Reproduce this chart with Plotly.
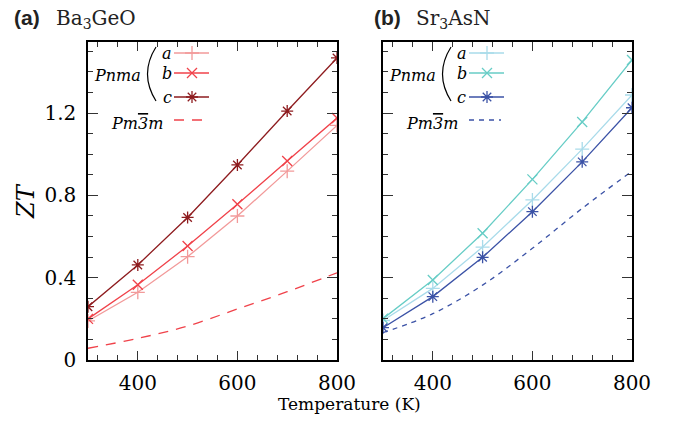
import plotly.graph_objects as go

# ---------------- data ----------------
temps = [300, 400, 500, 600, 700, 800]

ba_a = [0.19, 0.329, 0.502, 0.700, 0.918, 1.14]
ba_b = [0.20, 0.366, 0.554, 0.757, 0.967, 1.176]
ba_c = [0.259, 0.462, 0.693, 0.948, 1.21, 1.468]
ba_cubic = [0.057, 0.105, 0.165, 0.248, 0.332, 0.424]

sr_a = [0.192, 0.348, 0.549, 0.778, 1.025, 1.288]
sr_b = [0.201, 0.389, 0.616, 0.878, 1.157, 1.458]
sr_c = [0.157, 0.308, 0.499, 0.721, 0.963, 1.226]
sr_cubic = [0.133, 0.225, 0.364, 0.543, 0.737, 0.918]

x_ticks = [400, 600, 800]
y_ticks = [0, 0.4, 0.8, 1.2]
y_ticktext = ["0", "0.4", "0.8", "1.2"]

panel_titles = [("(a)", "Ba<sub>3</sub>GeO"), ("(b)", "Sr<sub>3</sub>AsN")]
series_labels = ["a", "b", "c"]
cubic_label = "Pm<span style=\"text-decoration:overline\">3</span>m"
ortho_label = "Pnma"

# ---------------- styles ----------------
W, H = 678, 428
SERIF = "DejaVu Serif"
SANS = "Liberation Sans"
left_cols = ["#f29a9a", "#f0424a", "#8e1c1f"]
right_cols = ["#a9dbea", "#67cdc6", "#3b52a6"]
symbols = ["cross-thin", "x-thin", "asterisk"]


def px(x):
    return x / W


def py(y):
    return 1 - y / H


fig = go.Figure()

panels = [
    dict(xa="x", ya="y", data=[ba_a, ba_b, ba_c], cubic=ba_cubic, cols=left_cols,
         cubcol="#f0424a", dash="10px,8px"),
    dict(xa="x2", ya="y2", data=[sr_a, sr_b, sr_c], cubic=sr_cubic, cols=right_cols,
         cubcol="#3b52a6", dash="5px,5px"),
]

for p in panels:
    for vals, col, sym in zip(p["data"], p["cols"], symbols):
        fig.add_trace(go.Scatter(
            x=temps, y=vals, xaxis=p["xa"], yaxis=p["ya"], mode="lines+markers",
            line=dict(color=col, width=1.3),
            marker=dict(symbol=sym, size=10, color=col, line=dict(color=col, width=1.3)),
            showlegend=False, hoverinfo="skip"))
    fig.add_trace(go.Scatter(
        x=temps, y=p["cubic"], xaxis=p["xa"], yaxis=p["ya"], mode="lines",
        line=dict(color=p["cubcol"], width=1.3, dash=p["dash"], shape="spline"),
        showlegend=False, hoverinfo="skip"))

# ---------------- legends (overlay axis in paper-like units) ----------------
leg_rows = [53, 73, 97]
annotations = []
shapes = []
for k, p in enumerate(panels):
    ox = 0 if k == 0 else 295
    for row, col, sym, lab in zip(leg_rows, p["cols"], symbols, series_labels):
        fig.add_trace(go.Scatter(
            x=[px(174 + ox), px(209 + ox)], y=[py(row), py(row)], xaxis="x3", yaxis="y3",
            mode="lines", line=dict(color=col, width=1.3), showlegend=False, hoverinfo="skip"))
        fig.add_trace(go.Scatter(
            x=[px(192 + ox)], y=[py(row)], xaxis="x3", yaxis="y3", mode="markers",
            marker=dict(symbol=sym, size=10, color=col, line=dict(color=col, width=1.3)),
            showlegend=False, hoverinfo="skip"))
        annotations.append(dict(
            x=px(167 + ox), y=py(row + 1), xref="paper", yref="paper", text="<i>%s</i>" % lab,
            showarrow=False, xanchor="center", yanchor="middle",
            font=dict(family=SERIF, size=16, color="black")))
    fig.add_trace(go.Scatter(
        x=[px(174 + ox), px(206 + ox)], y=[py(120), py(120)], xaxis="x3", yaxis="y3",
        mode="lines", line=dict(color=p["cubcol"], width=1.3, dash=p["dash"]),
        showlegend=False, hoverinfo="skip"))
    annotations.append(dict(
        x=px(143 + ox), y=py(75), xref="paper", yref="paper", text="<i>%s</i>" % ortho_label,
        showarrow=False, xanchor="right", yanchor="middle",
        font=dict(family=SERIF, size=16, color="black")))
    annotations.append(dict(
        x=px(165 + ox), y=py(123), xref="paper", yref="paper", text="<i>%s</i>" % cubic_label,
        showarrow=False, xanchor="right", yanchor="middle",
        font=dict(family=SERIF, size=16, color="black")))
    shapes.append(dict(
        type="path", xref="paper", yref="paper",
        path="M %f,%f Q %f,%f %f,%f" % (px(156 + ox), py(47), px(139 + ox), py(74),
                                        px(156 + ox), py(101)),
        line=dict(color="black", width=1.2)))
    # panel titles
    tag, name = panel_titles[k]
    annotations.append(dict(
        x=px(12 + ox + (0 if k == 0 else 65)), y=py(18), xref="paper", yref="paper",
        text="<b>%s</b>" % tag, showarrow=False, xanchor="left", yanchor="middle",
        font=dict(family=SANS, size=21, color="#222")))
    annotations.append(dict(
        x=px(54 + ox + (0 if k == 0 else 65)), y=py(19), xref="paper", yref="paper",
        text=name, showarrow=False, xanchor="left", yanchor="middle",
        font=dict(family=SERIF, size=20, color="#222")))

annotations.append(dict(
    x=px(349), y=py(404), xref="paper", yref="paper", text="Temperature (K)",
    showarrow=False, xanchor="center", yanchor="middle",
    font=dict(family=SERIF, size=17, color="black")))
annotations.append(dict(
    x=px(26), y=py(201), xref="paper", yref="paper", text="<i>ZT</i>", textangle=-90,
    showarrow=False, xanchor="center", yanchor="middle",
    font=dict(family=SERIF, size=24, color="black")))

xdomL = [px(88), px(337)]
xdomR = [px(383), px(632)]
ydom = [py(360), py(42)]

xcommon = dict(range=[300, 800], tickvals=x_ticks, ticks="inside", ticklen=9, tickwidth=1.2,
               tickcolor="#333", showline=True, linecolor="black", linewidth=1.5,
               mirror="ticks", showgrid=False, zeroline=False, automargin=False,
               minor=dict(dtick=40, tick0=0, ticks="inside", ticklen=5, tickwidth=1.1,
                          tickcolor="#333", showgrid=False),
               tickfont=dict(family=SERIF, size=20, color="black"), ticklabelstandoff=4)
ycommon = dict(range=[0, 1.5456], tickvals=y_ticks, ticktext=y_ticktext, ticks="inside",
               ticklen=10, tickwidth=1.2, tickcolor="#333", showline=True, linecolor="black",
               linewidth=1.5, mirror="ticks", showgrid=False, zeroline=False, automargin=False,
               minor=dict(dtick=0.1, tick0=0, ticks="inside", ticklen=5, tickwidth=1.1,
                          tickcolor="#333", showgrid=False),
               tickfont=dict(family=SERIF, size=20, color="black"), ticklabelstandoff=6)

fig.update_layout(
    width=W, height=H, autosize=False,
    margin=dict(l=0, r=0, t=0, b=0, pad=0, autoexpand=False),
    paper_bgcolor="white", plot_bgcolor="rgba(0,0,0,0)",
    showlegend=False,
    xaxis=dict(domain=xdomL, anchor="y", **xcommon),
    yaxis=dict(domain=ydom, anchor="x", **ycommon),
    xaxis2=dict(domain=xdomR, anchor="y2", **xcommon),
    yaxis2=dict(domain=ydom, anchor="x2", showticklabels=False,
                **{k: v for k, v in ycommon.items() if k not in ("tickfont",)}),
    xaxis3=dict(domain=[0, 1], range=[0, 1], visible=False, anchor="y3", fixedrange=True,
                automargin=False),
    yaxis3=dict(domain=[0, 1], range=[0, 1], visible=False, anchor="x3", fixedrange=True,
                automargin=False),
    annotations=annotations,
    shapes=shapes,
)

fig.write_html("out.html")
